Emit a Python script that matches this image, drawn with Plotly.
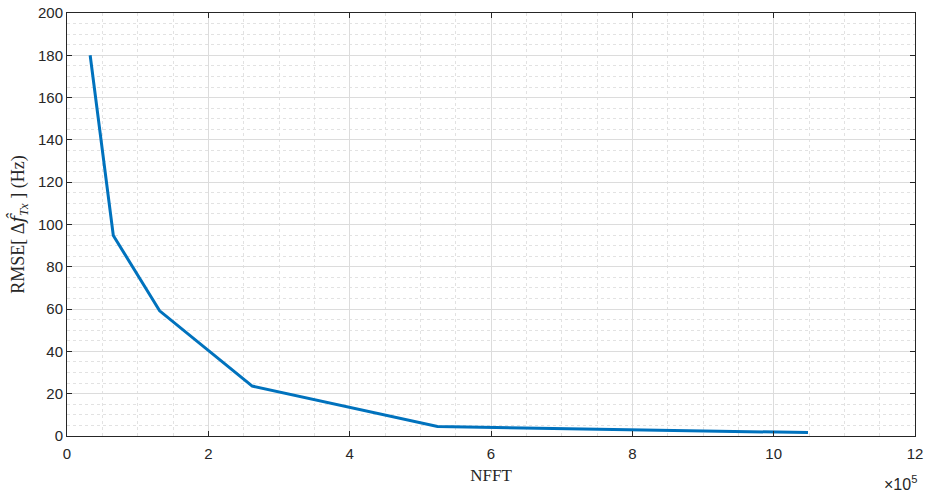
import plotly.graph_objects as go

nfft = [32768, 65536, 131072, 262144, 524288, 1048576]
rmse = [180, 94.8, 59.2, 23.6, 4.5, 1.6]
x_scale = 1e5
x_ticks = [0, 2, 4, 6, 8, 10, 12]
y_ticks = [0, 20, 40, 60, 80, 100, 120, 140, 160, 180, 200]

xs = [v / x_scale for v in nfft]

fig = go.Figure()
fig.add_trace(go.Scatter(x=xs, y=rmse, mode="lines",
                         line=dict(color="#0072BD", width=3), showlegend=False))

tickfont = dict(family="Liberation Sans, Arial, sans-serif", size=15, color="#262626")
serif = "Liberation Serif, Times New Roman, serif"
axis_common = dict(
    showline=True, linecolor="#262626", linewidth=1, mirror="ticks",
    ticks="inside", ticklen=5, tickcolor="#262626", tickwidth=1,
    showgrid=True, gridcolor="#dcdcdc", gridwidth=1,
    zeroline=False, tickfont=tickfont, automargin=False,
)

fig.update_layout(
    width=927, height=493,
    margin=dict(l=67, r=12, t=13, b=57),
    plot_bgcolor="white", paper_bgcolor="white",
    xaxis=dict(range=[0, 12], tickvals=x_ticks, ticktext=[str(t) for t in x_ticks],
               ticklabelstandoff=4,
               minor=dict(dtick=0.5, tick0=0, showgrid=True, griddash="dot",
                          gridcolor="#e2e2e2", ticks=""),
               title=dict(text="NFFT", font=dict(family=serif, size=17, color="#262626"),
                          standoff=8),
               **axis_common),
    yaxis=dict(range=[0, 200], tickvals=y_ticks, ticktext=[str(t) for t in y_ticks],
               minor=dict(dtick=5, tick0=0, showgrid=True, griddash="dot",
                          gridcolor="#e2e2e2", ticks=""),
               title=dict(text="RMSE[ Δ<span style='font-family:DejaVu Serif'><i>f̂</i></span>"
                               "<sub><i>Tx</i></sub> ] (Hz)",
                          font=dict(family=serif, size=18, color="#262626"), standoff=8),
               **axis_common),
)

fig.add_annotation(text="×10<sup>5</sup>", xref="paper", yref="paper",
                   x=1.0, y=0, xanchor="right", yanchor="top", yshift=-35, xshift=4,
                   showarrow=False, font=dict(family=tickfont["family"], size=16,
                                              color="#262626"))

fig.write_html("out.html")
